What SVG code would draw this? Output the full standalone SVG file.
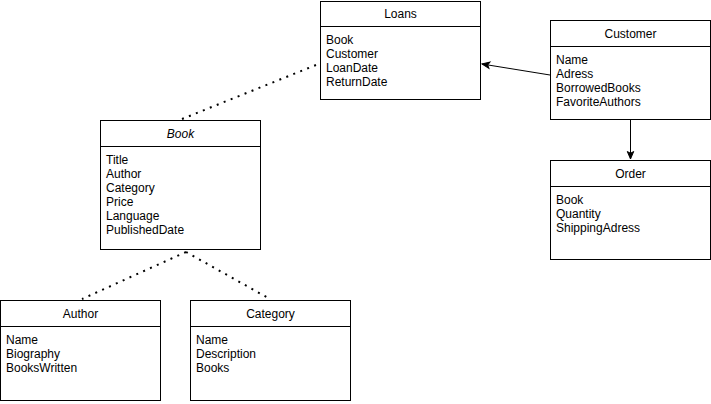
<svg xmlns="http://www.w3.org/2000/svg" width="711" height="404" viewBox="0 0 711 404">
<style>
.box{fill:#fff;stroke:#000;stroke-width:1}
.sep{stroke:#000;stroke-width:1}
.t{font-family:"Liberation Sans",Arial,sans-serif;font-size:12px;fill:#000}
.h{text-anchor:middle}
.dot{fill:none;stroke:#000;stroke-width:2;stroke-dasharray:2 5.5;stroke-linecap:butt}
.arr{fill:none;stroke:#000;stroke-width:1}
</style>
<defs>
<marker id="ah" markerUnits="userSpaceOnUse" markerWidth="10" markerHeight="10" viewBox="0 0 10 10" refX="9" refY="5" orient="auto">
<path d="M1.5,1.8 L9,5 L1.5,8.2 L3.3,5 Z" fill="#000" stroke="#000" stroke-width="1"/>
</marker>
</defs>
<rect width="711" height="404" fill="#fff"/>
<g id="connectors">
<line class="dot" x1="316" y1="65" x2="182" y2="119"/>
<line class="dot" x1="186" y1="252" x2="82" y2="299"/>
<line class="dot" x1="186" y1="252" x2="270" y2="299"/>
<line class="arr" x1="550" y1="75" x2="482" y2="64" marker-end="url(#ah)"/>
<line class="arr" x1="630.5" y1="120" x2="630.5" y2="159" marker-end="url(#ah)"/>
</g>
<g id="loans">
<rect class="box" x="320.5" y="1.5" width="160" height="98"/>
<line class="sep" x1="320.5" y1="26.5" x2="480.5" y2="26.5"/>
<text class="t h" x="400.5" y="18">Loans</text>
<text class="t" x="326" y="44">Book</text>
<text class="t" x="326" y="58">Customer</text>
<text class="t" x="326" y="72">LoanDate</text>
<text class="t" x="326" y="86">ReturnDate</text>
</g>
<g id="customer">
<rect class="box" x="550.5" y="20.5" width="160" height="99"/>
<line class="sep" x1="550.5" y1="46.5" x2="710.5" y2="46.5"/>
<text class="t h" x="630.5" y="38">Customer</text>
<text class="t" x="556" y="64">Name</text>
<text class="t" x="556" y="78">Adress</text>
<text class="t" x="556" y="92">BorrowedBooks</text>
<text class="t" x="556" y="106">FavoriteAuthors</text>
</g>
<g id="order">
<rect class="box" x="550.5" y="160.5" width="160" height="99"/>
<line class="sep" x1="550.5" y1="186.5" x2="710.5" y2="186.5"/>
<text class="t h" x="630.5" y="178">Order</text>
<text class="t" x="556" y="204">Book</text>
<text class="t" x="556" y="218">Quantity</text>
<text class="t" x="556" y="232">ShippingAdress</text>
</g>
<g id="book">
<rect class="box" x="100.5" y="120.5" width="160" height="129"/>
<line class="sep" x1="100.5" y1="146.5" x2="260.5" y2="146.5"/>
<text class="t h" x="180.5" y="138" font-style="italic">Book</text>
<text class="t" x="106" y="164">Title</text>
<text class="t" x="106" y="178">Author</text>
<text class="t" x="106" y="192">Category</text>
<text class="t" x="106" y="206">Price</text>
<text class="t" x="106" y="220">Language</text>
<text class="t" x="106" y="234">PublishedDate</text>
</g>
<g id="author">
<rect class="box" x="0.5" y="300.5" width="160" height="100"/>
<line class="sep" x1="0.5" y1="326.5" x2="160.5" y2="326.5"/>
<text class="t h" x="80.5" y="318">Author</text>
<text class="t" x="6" y="344">Name</text>
<text class="t" x="6" y="358">Biography</text>
<text class="t" x="6" y="372">BooksWritten</text>
</g>
<g id="category">
<rect class="box" x="190.5" y="300.5" width="160" height="100"/>
<line class="sep" x1="190.5" y1="326.5" x2="350.5" y2="326.5"/>
<text class="t h" x="270.5" y="318">Category</text>
<text class="t" x="196" y="344">Name</text>
<text class="t" x="196" y="358">Description</text>
<text class="t" x="196" y="372">Books</text>
</g>
</svg>
